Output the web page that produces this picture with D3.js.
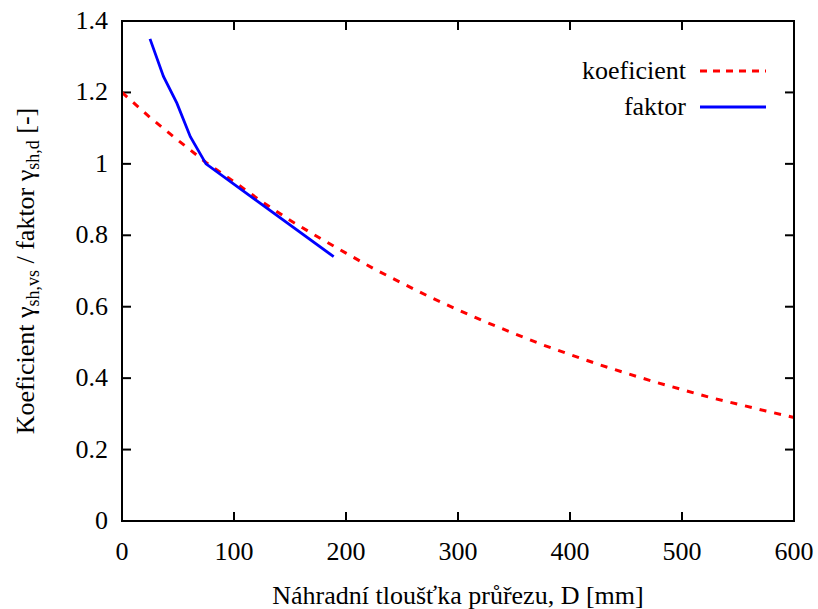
<!DOCTYPE html>
<html>
<head>
<meta charset="utf-8">
<script src="https://cdn.jsdelivr.net/npm/d3@7"></script>
</head>
<body style="margin:0">
<script>
// koeficient (red dashed)
const koefD = [0, 25, 50, 75, 100, 125, 150, 175, 200, 225, 250, 275, 300,
    325, 350, 375, 400, 425, 450, 475, 500, 525, 550, 575, 600];
const koefVal = [1.2, 1.13, 1.066, 1.004, 0.95, 0.894, 0.842, 0.795, 0.75, 0.706, 0.666, 0.627, 0.591,
    0.557, 0.525, 0.494, 0.466, 0.439, 0.414, 0.39, 0.368, 0.346, 0.327, 0.308, 0.29];

// faktor (blue solid)
const faktD = [25, 37, 49, 61, 75, 189];
const faktVal = [1.35, 1.245, 1.17, 1.076, 1.0, 0.74];

const xTicks = [0, 100, 200, 300, 400, 500, 600];
const yTicks = [0, 0.2, 0.4, 0.6, 0.8, 1, 1.2, 1.4];
const legendNames = ["koeficient", "faktor"];

const width = 818, height = 609;
const margin = { top: 21, right: 24, bottom: 88, left: 122 };
const fontSize = 26;
const serif = "Liberation Serif";

const svg = d3.select("body").append("svg")
    .attr("width", width)
    .attr("height", height);

const x = d3.scaleLinear().domain([0, 600]).range([margin.left, width - margin.right]);
const y = d3.scaleLinear().domain([0, 1.4]).range([height - margin.bottom, margin.top]);

// ticks on all four sides, pointing inward (gnuplot style)
const tickLen = 9;
const axes = svg.append("g").attr("stroke", "#000").attr("stroke-width", 2);
xTicks.forEach(t => {
    axes.append("line").attr("x1", x(t)).attr("x2", x(t)).attr("y1", y(0)).attr("y2", y(0) - tickLen);
    axes.append("line").attr("x1", x(t)).attr("x2", x(t)).attr("y1", y(1.4)).attr("y2", y(1.4) + tickLen);
});
yTicks.forEach(t => {
    axes.append("line").attr("x1", x(0)).attr("x2", x(0) + tickLen).attr("y1", y(t)).attr("y2", y(t));
    axes.append("line").attr("x1", x(600)).attr("x2", x(600) - tickLen).attr("y1", y(t)).attr("y2", y(t));
});

// tick labels
svg.append("g").selectAll("text")
    .data(xTicks)
    .join("text")
    .attr("x", d => x(d))
    .attr("y", y(0) + 39)
    .attr("text-anchor", "middle")
    .attr("font-size", fontSize)
    .attr("font-family", serif)
    .text(d => d);

svg.append("g").selectAll("text")
    .data(yTicks)
    .join("text")
    .attr("x", x(0) - 14)
    .attr("y", d => y(d) + 8)
    .attr("text-anchor", "end")
    .attr("font-size", fontSize)
    .attr("font-family", serif)
    .text(d => d3.format("~g")(d));

// data lines
const line = d3.line().x(d => x(d[0])).y(d => y(d[1]));
const koef = koefD.map((d, i) => [d, koefVal[i]]);
const fakt = faktD.map((d, i) => [d, faktVal[i]]);

const plot = svg.append("g");
plot.append("path")
    .datum(koef)
    .attr("fill", "none")
    .attr("stroke", "#ff0000")
    .attr("stroke-width", 3)
    .attr("stroke-dasharray", "7,8")
    .attr("d", line);

plot.append("path")
    .datum(fakt)
    .attr("fill", "none")
    .attr("stroke", "#0000ff")
    .attr("stroke-width", 2.8)
    .attr("d", line);

// border
svg.append("rect")
    .attr("x", x(0)).attr("y", y(1.4))
    .attr("width", x(600) - x(0)).attr("height", y(0) - y(1.4))
    .attr("fill", "none").attr("stroke", "#000").attr("stroke-width", 2);

// legend
const legend = svg.append("g").selectAll("g")
    .data(legendNames)
    .join("g")
    .attr("transform", (d, i) => `translate(0, ${71 + i * 36})`);

legend.append("text")
    .attr("x", 686)
    .attr("y", 8)
    .attr("text-anchor", "end")
    .attr("font-size", fontSize)
    .attr("font-family", serif)
    .text(d => d);

legend.append("line")
    .attr("x1", 700).attr("x2", 766)
    .attr("stroke", (d, i) => i === 0 ? "#ff0000" : "#0000ff")
    .attr("stroke-width", (d, i) => i === 0 ? 3 : 2.8)
    .attr("stroke-dasharray", (d, i) => i === 0 ? "7,6" : null);

// axis titles
svg.append("text")
    .attr("x", (x(0) + x(600)) / 2)
    .attr("y", 604)
    .attr("text-anchor", "middle")
    .attr("font-size", fontSize)
    .attr("font-family", serif)
    .text("Náhradní tloušťka průřezu, D [mm]");

const ylab = svg.append("text")
    .attr("transform", `translate(34, ${(y(0) + y(1.4)) / 2}) rotate(-90)`)
    .attr("text-anchor", "middle")
    .attr("font-size", fontSize)
    .attr("font-family", serif);
ylab.append("tspan").text("Koeficient ");
ylab.append("tspan").text("γ");
ylab.append("tspan").attr("font-size", 18).attr("dy", 5).text("sh,vs");
ylab.append("tspan").attr("dy", -5).text(" / faktor ");
ylab.append("tspan").text("γ");
ylab.append("tspan").attr("font-size", 18).attr("dy", 5).text("sh,d");
ylab.append("tspan").attr("dy", -5).text(" [-]");
</script>
</body>
</html>
